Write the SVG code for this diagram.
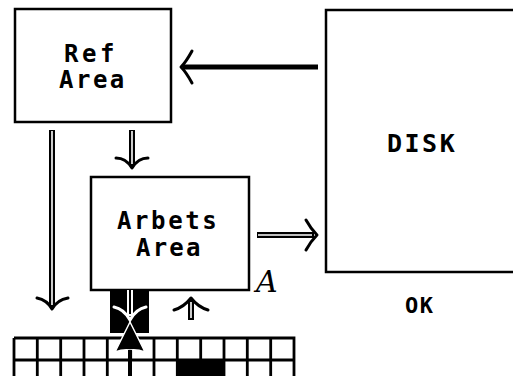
<svg xmlns="http://www.w3.org/2000/svg" width="513" height="376" viewBox="0 0 513 376">
<style>
.box{fill:#fff;stroke:#000;stroke-width:2.5}
.lbl{font-family:"DejaVu Sans Mono","Liberation Mono",monospace;font-weight:bold;fill:#000}
.shaft{stroke:#000;stroke-width:6;fill:none}
.core{stroke:#fff;stroke-width:1.6;fill:none}
.head{stroke:#000;stroke-width:3;fill:none;stroke-linecap:round;stroke-linejoin:round}
.grid{stroke:#000;stroke-width:2.8;fill:none}
</style>
<rect width="513" height="376" fill="#fff"/>
<g id="ref-area">
<rect class="box" x="15" y="9" width="156" height="113"/>
<text class="lbl" x="64" y="62" font-size="24" letter-spacing="3.5">Ref</text>
<text class="lbl" x="59" y="88" font-size="24" letter-spacing="2.5">Area</text>
</g>
<g id="disk">
<rect class="box" x="326" y="10" width="200" height="262"/>
<text class="lbl" x="387" y="152" font-size="25" letter-spacing="2.5">DISK</text>
</g>
<g id="arbets-area">
<rect class="box" x="91" y="177" width="158" height="113"/>
<text class="lbl" x="117" y="229" font-size="24" letter-spacing="2.6">Arbets</text>
<text class="lbl" x="136" y="256" font-size="24" letter-spacing="2.2">Area</text>
</g>
<g id="ok-label">
<text class="lbl" x="405" y="313" font-size="22" letter-spacing="1.5">OK</text>
</g>
<g id="a-mark">
<text x="256" y="292" font-family="'DejaVu Serif','Liberation Serif',serif" font-style="italic" font-size="30" fill="#000">A</text>
</g>
<g id="grid">
<path class="grid" d="M14 338H294V376M14 360H294M14 338V376"/>
<path class="grid" d="M37.3 338V376M60.7 338V376M84 338V376M107.3 338V376M130.7 338V360M154 338V376M177.3 338V376M200.7 338V360M224 338V376M247.3 338V376M270.7 338V376"/>
<rect x="178" y="360" width="46" height="16" fill="#000"/>
</g>
<g id="buffer">
<rect x="110" y="290" width="39" height="43" fill="#000"/>
</g>
<g id="connectors">
<line x1="318" y1="67" x2="183" y2="67" stroke="#000" stroke-width="5"/>
<path class="head" d="M192 51Q186 62 181 67Q186 72 192 83"/>
<line class="shaft" x1="132" y1="130" x2="132" y2="166"/>
<line class="core" x1="132" y1="131" x2="132" y2="164"/>
<path class="head" d="M116 158Q126 158 132 168Q138 158 148 158"/>
<line class="shaft" x1="52" y1="130" x2="52" y2="307"/>
<line class="core" x1="52" y1="131" x2="52" y2="305"/>
<path class="head" d="M37 298Q47 300 52 309Q57 300 68 298"/>
<line class="shaft" x1="257" y1="235" x2="314" y2="235"/>
<line class="core" x1="258" y1="235" x2="312" y2="235" stroke-width="1.2"/>
<path class="head" d="M306 220Q311 229 317 235Q311 241 306 250"/>
<line x1="130" y1="290" x2="130" y2="316" stroke="#fff" stroke-width="6"/>
<line x1="130" y1="290" x2="130" y2="314" stroke="#000" stroke-width="2"/>
<path d="M114 307Q124 309 130 320Q136 309 146 307" stroke="#fff" stroke-width="3" fill="none" stroke-linecap="round"/>
<path d="M130 322L145 352Q137 349 130 350Q123 349 115 352Z" fill="#000" stroke="#fff" stroke-width="1.5" stroke-linejoin="round"/>
<line x1="130" y1="350" x2="130" y2="376" stroke="#000" stroke-width="4"/>
<line class="shaft" x1="191" y1="300" x2="191" y2="320"/>
<line class="core" x1="191" y1="302" x2="191" y2="318"/>
<path class="head" d="M174 310Q184 307 191 298Q198 307 208 310"/>
</g>
</svg>
